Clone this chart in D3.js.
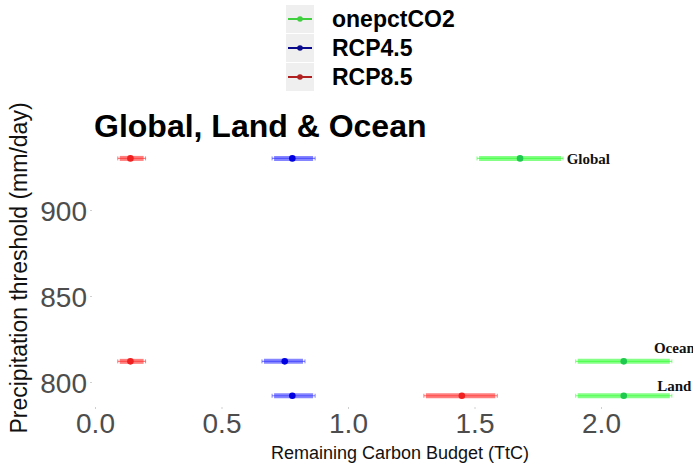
<!DOCTYPE html>
<html>
<head>
<meta charset="utf-8">
<script src="https://cdn.jsdelivr.net/npm/d3@7"></script>
<style>
  body { margin: 0; background: #fff; }
  svg { display: block; }
</style>
</head>
<body>
<div id="chart"></div>
<script>
// regions (rows) and their precipitation thresholds (mm/day)
const regions    = ["Global", "Ocean", "Land"];
const thresholds = [930, 812, 792];

// scenarios, legend order
const scenarios = ["onepctCO2", "RCP4.5", "RCP8.5"];

// remaining carbon budget (TtC) per region: median, low, high
const onepctMid = [1.68, 2.09, 2.09];
const onepctLo  = [1.51, 1.90, 1.90];
const onepctHi  = [1.85, 2.28, 2.28];

const rcp45Mid = [0.78, 0.75, 0.78];
const rcp45Lo  = [0.70, 0.66, 0.70];
const rcp45Hi  = [0.87, 0.83, 0.87];

const rcp85Mid = [0.14, 0.14, 1.45];
const rcp85Lo  = [0.09, 0.09, 1.30];
const rcp85Hi  = [0.20, 0.20, 1.59];

// region labels placed on the plot
const labelNames = ["Global", "Ocean", "Land"];
const labelX     = [1.95, 2.29, 2.29];
const labelY     = [930, 820, 798];

// axis ticks
const xTicks = [0, 0.5, 1, 1.5, 2];
const yTicks = [800, 850, 900];

// colours for each scenario
const colors = {
  "onepctCO2": { bar: "#33ff33", dot: "#1fc94f", key: "#3fcf3f" },
  "RCP4.5":    { bar: "#3333ff", dot: "#0000e0", key: "#0a0a8c" },
  "RCP8.5":    { bar: "#ff2a2a", dot: "#f02020", key: "#b02020" }
};

const series = [
  { name: "onepctCO2", mid: onepctMid, lo: onepctLo, hi: onepctHi },
  { name: "RCP4.5",    mid: rcp45Mid,  lo: rcp45Lo,  hi: rcp45Hi },
  { name: "RCP8.5",    mid: rcp85Mid,  lo: rcp85Lo,  hi: rcp85Hi }
];

// flatten into rows
const rows = [];
series.forEach(s => {
  regions.forEach((r, i) => {
    rows.push({ scen: s.name, region: r, y: thresholds[i], mid: s.mid[i], lo: s.lo[i], hi: s.hi[i] });
  });
});

const W = 693, H = 466;
const svg = d3.select("#chart").append("svg")
  .attr("width", W)
  .attr("height", H);

// scales
const x = d3.scaleLinear().domain([0, 1]).range([95, 348]);
const y = d3.scaleLinear().domain([800, 900]).range([382, 210]);

// axes (ticks are tiny grey marks, big grey labels)
const xAxis = d3.axisBottom(x).tickValues(xTicks).tickFormat(d3.format(".1f")).tickSize(2).tickPadding(4);
const yAxis = d3.axisLeft(y).tickValues(yTicks).tickFormat(d3.format("d")).tickSize(2).tickPadding(3);

const gx = svg.append("g").attr("transform", "translate(0,407)").call(xAxis);
const gy = svg.append("g").attr("transform", "translate(92,0)").call(yAxis);
[gx, gy].forEach(g => {
  g.select(".domain").remove();
  g.selectAll(".tick line").attr("stroke", "#d0d0d0");
  g.selectAll(".tick text")
    .attr("fill", "#4d4d4d")
    .style("font-family", "Liberation Sans, Arial, sans-serif")
    .style("font-size", "28px");
});
gy.selectAll(".tick text").attr("dy", "0.36em");

// axis titles
svg.append("text")
  .attr("x", 400)
  .attr("y", 459)
  .attr("text-anchor", "middle")
  .style("font-family", "Liberation Sans, Arial, sans-serif")
  .style("font-size", "18px")
  .attr("fill", "#111")
  .text("Remaining Carbon Budget (TtC)");

svg.append("text")
  .attr("transform", "translate(27,268) rotate(-90)")
  .attr("text-anchor", "middle")
  .style("font-family", "Liberation Sans, Arial, sans-serif")
  .style("font-size", "23px")
  .attr("fill", "#111")
  .text("Precipitation threshold (mm/day)");

// title
svg.append("text")
  .attr("x", 94)
  .attr("y", 137)
  .style("font-family", "Liberation Sans, Arial, sans-serif")
  .style("font-size", "32px")
  .style("font-weight", "bold")
  .attr("fill", "#000")
  .text("Global, Land & Ocean");

// error bars
const marks = svg.append("g");
const item = marks.selectAll(".bar")
  .data(rows)
  .enter()
  .append("g")
  .attr("class", "bar");

// thin whisker with end caps
item.append("line")
  .attr("x1", d => x(d.lo))
  .attr("x2", d => x(d.hi))
  .attr("y1", d => y(d.y))
  .attr("y2", d => y(d.y))
  .attr("stroke", d => colors[d.scen].bar)
  .attr("stroke-opacity", 0.6)
  .attr("stroke-width", 1.2);

item.selectAll(".cap")
  .data(d => [d.lo, d.hi].map(v => ({ v: v, d: d })))
  .enter()
  .append("line")
  .attr("x1", c => x(c.v))
  .attr("x2", c => x(c.v))
  .attr("y1", c => y(c.d.y) - 2)
  .attr("y2", c => y(c.d.y) + 2)
  .attr("stroke", c => colors[c.d.scen].bar)
  .attr("stroke-opacity", 0.6)
  .attr("stroke-width", 1);

// thick semi-transparent bar
item.append("line")
  .attr("x1", d => x(d.lo) + 2)
  .attr("x2", d => x(d.hi) - 2)
  .attr("y1", d => y(d.y))
  .attr("y2", d => y(d.y))
  .attr("stroke", d => colors[d.scen].bar)
  .attr("stroke-opacity", 0.6)
  .attr("stroke-width", 5);

// median point
item.append("circle")
  .attr("cx", d => x(d.mid))
  .attr("cy", d => y(d.y))
  .attr("r", 3.3)
  .attr("fill", d => colors[d.scen].dot);

// region labels
svg.selectAll(".region-label")
  .data(labelNames)
  .enter()
  .append("text")
  .attr("class", "region-label")
  .attr("x", (d, i) => x(labelX[i]))
  .attr("y", (d, i) => y(labelY[i]))
  .attr("dy", "0.35em")
  .attr("text-anchor", "middle")
  .style("font-family", "Liberation Serif, Times New Roman, serif")
  .style("font-size", "15px")
  .style("font-weight", "bold")
  .attr("fill", "#111")
  .text(d => d);

// legend at the top
const legend = svg.append("g").attr("transform", "translate(286,5)");
const li = legend.selectAll(".legend-item")
  .data(scenarios)
  .enter()
  .append("g")
  .attr("class", "legend-item")
  .attr("transform", (d, i) => `translate(0, ${i * 29})`);

li.append("rect")
  .attr("width", 28)
  .attr("height", 28)
  .attr("fill", "#efefef");

li.append("line")
  .attr("x1", 2)
  .attr("x2", 26)
  .attr("y1", 14)
  .attr("y2", 14)
  .attr("stroke", d => colors[d].key)
  .attr("stroke-width", 2);

li.append("circle")
  .attr("cx", 14)
  .attr("cy", 14)
  .attr("r", 2.8)
  .attr("fill", d => colors[d].key);

li.append("text")
  .attr("x", 46)
  .attr("y", 14)
  .attr("dy", "0.36em")
  .style("font-family", "Liberation Sans, Arial, sans-serif")
  .style("font-size", "23px")
  .style("font-weight", "bold")
  .attr("fill", "#000")
  .text(d => d);
</script>
</body>
</html>
